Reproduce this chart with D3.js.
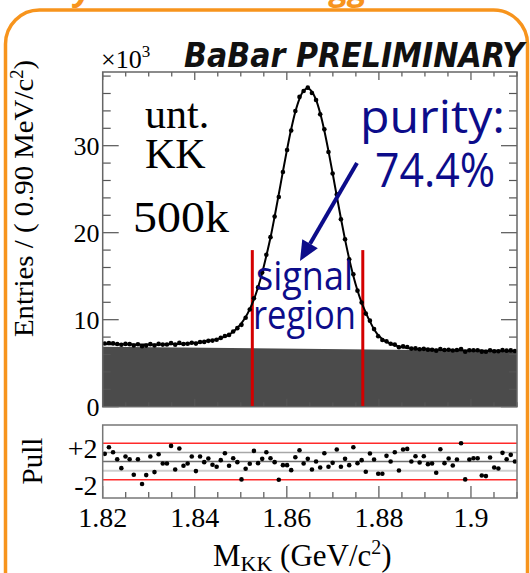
<!DOCTYPE html>
<html><head><meta charset="utf-8">
<script src="https://cdn.jsdelivr.net/npm/d3@7"></script>
<style>body{margin:0;background:#fff;overflow:hidden} svg{display:block}</style>
</head><body>
<script>
// ---- data ----
const massRange = [1.82, 1.91];          // GeV/c^2, 100 bins of 0.90 MeV
const fitValues = [ // total fit, x10^3 entries per bin
7.20,7.19,7.19,7.18,7.18,7.17,7.17,7.16,7.16,7.15,
7.15,7.14,7.14,7.15,7.16,7.17,7.19,7.20,7.22,7.24,
7.26,7.30,7.34,7.39,7.46,7.54,7.63,7.75,7.90,8.05,
8.29,8.62,9.04,9.60,10.30,11.21,12.34,13.73,15.39,17.34,
19.44,21.86,24.42,27.04,29.57,31.91,33.90,35.38,36.33,36.61,
36.22,35.26,33.72,31.72,29.37,26.83,24.20,21.63,19.20,16.99,
15.03,13.36,11.96,10.82,9.80,8.90,8.21,7.78,7.46,7.24,
7.05,6.92,6.82,6.75,6.68,6.65,6.62,6.60,6.58,6.56,
6.54,6.53,6.52,6.51,6.50,6.49,6.48,6.47,6.46,6.46,
6.45,6.45,6.44,6.44,6.43,6.43,6.42,6.42,6.41,6.41];
const dataValues = [ // data points, x10^3 entries per bin
7.27,7.32,7.28,7.20,7.12,7.22,7.19,7.04,7.18,6.94,
7.02,7.19,7.04,7.22,7.14,7.15,7.33,7.13,7.34,7.20,
7.24,7.35,7.25,7.44,7.45,7.57,7.60,7.70,7.91,8.13,
8.25,8.65,9.03,9.41,10.22,11.18,12.47,13.71,15.43,17.47,
19.49,21.85,24.11,26.97,29.50,31.74,33.99,35.61,36.29,36.67,
36.05,35.26,33.60,31.88,29.27,26.81,24.40,21.54,19.24,16.94,
15.22,13.34,11.98,10.70,9.89,8.92,8.09,7.66,7.51,7.24,
7.14,6.84,6.93,6.86,6.68,6.70,6.61,6.65,6.56,6.54,
6.44,6.64,6.51,6.54,6.46,6.51,6.64,6.31,6.48,6.49,
6.48,6.33,6.31,6.48,6.38,6.37,6.50,6.44,6.47,6.41];
const pullValues = [
0.84,1.56,1.02,0.25,-0.73,0.55,0.25,-1.45,0.25,-2.47,
-1.49,0.55,-1.16,0.8,-0.22,-0.22,1.71,-0.87,1.42,-0.47,
-0.22,0.55,-1.05,0.55,-0.07,0.33,-0.36,-0.58,0.15,0.91,
-0.47,0.36,-0.07,-1.96,-0.8,-0.25,1.16,-0.18,0.29,1.02,
0.36,-0.07,-2.0,-0.4,-0.4,-0.95,0.47,1.24,-0.22,0.29,
-0.87,0,-0.65,0.91,-0.58,-0.15,1.31,-0.58,0.29,-0.4,
1.56,-0.18,0.15,-1.13,0.87,0.22,-1.35,-1.35,0.62,0,
1.02,-0.98,1.31,1.38,0,0.58,-0.11,0.58,-0.29,-0.22,
-1.24,1.35,-0.18,0.33,-0.44,0.22,2.0,-1.96,0.22,0.36,
0.36,-1.53,-1.6,0.44,-0.65,-0.76,0.95,0.25,0.73,0];
const bkgMass = [1.82, 1.91];
const bkgValues = [6.90, 6.40];
const signalRegion = [1.8525, 1.8765];
const xTicks = [1.82, 1.84, 1.86, 1.88, 1.90];
const xTickLabels = ["1.82", "1.84", "1.86", "1.88", "1.9"];
const yTicks = [0, 10, 20, 30];
const yTickLabels = ["0", "10", "20", "30"];
const pullLines = [2, 1, 0, -1, -2];
const pullTicks = [2, -2];
const pullTickLabels = ["+2", "-2"];
const yMax = 38.47, pullMax = 4;

// ---- layout ----
const W = 530, H = 573;
const L = 102.7, R = 517;
const mainTop = 72, mainBot = 406.7;
const pullTop = 425, pullBot = 498;
const serif = "'Liberation Serif','Times New Roman',serif";
const sans = "'Open Sans','DejaVu Sans',sans-serif";
const navy = "#0c0c8a";
const orange = "#f7941d";

const svg = d3.select("body").append("svg").attr("width", W).attr("height", H);

// orange slide frame and cut-off slide title (only descenders visible)
svg.append("rect").attr("x", 5.5).attr("y", 10).attr("width", 522).attr("height", 640)
  .attr("rx", 34).attr("fill", "none").attr("stroke", orange).attr("stroke-width", 3.5);
const ttl = { "font-family": sans, "font-weight": "bold", "font-style": "italic", "font-size": 34, fill: orange };
const t1 = svg.append("text").attr("x", -5).attr("y", 0).text("Purity");
const t2 = svg.append("text").attr("x", 292).attr("y", 0).text("triggers");
[t1, t2].forEach(t => Object.entries(ttl).forEach(([k, v]) => t.attr(k, v)));

const x = d3.scaleLinear().domain(massRange).range([L, R]);
const y = d3.scaleLinear().domain([0, yMax]).range([mainBot, mainTop]);
const yp = d3.scaleLinear().domain([-pullMax, pullMax]).range([pullBot, pullTop]);
const binW = (massRange[1] - massRange[0]) / fitValues.length;
const centers = fitValues.map((_, i) => massRange[0] + (i + 0.5) * binW);

const main = svg.append("g");
main.append("rect").attr("x", L).attr("y", mainTop).attr("width", R - L).attr("height", mainBot - mainTop).attr("fill", "#fff");

// background component
const bk = bkgMass.map((m, i) => [m, bkgValues[i]]);
main.append("path").datum(bk)
  .attr("d", d3.area().x(d => x(d[0])).y0(y(0)).y1(d => y(d[1])))
  .attr("fill", "#4b4b4b");

// ticks main
const minorX = d3.range(0, 19).map(k => massRange[0] + k * 0.005);
const isMajorX = v => Math.abs(Math.round(v / 0.02) * 0.02 - v) < 1e-6;
const tk = main.append("g").attr("stroke", "#555").attr("stroke-width", 1.2);
minorX.forEach(v => {
  const len = isMajorX(v) ? 8 : 4.5;
  tk.append("line").attr("x1", x(v)).attr("x2", x(v)).attr("y1", mainBot).attr("y2", mainBot - len);
  tk.append("line").attr("x1", x(v)).attr("x2", x(v)).attr("y1", mainTop).attr("y2", mainTop + len);
});
d3.range(0, 39, 2).forEach(v => {
  if (v > yMax) return;
  const len = v % 10 === 0 ? 16 : 8;
  tk.append("line").attr("x1", L).attr("x2", L + len).attr("y1", y(v)).attr("y2", y(v));
  tk.append("line").attr("x1", R).attr("x2", R - len).attr("y1", y(v)).attr("y2", y(v));
});

// signal region lines
signalRegion.forEach(m => {
  main.append("line").attr("x1", x(m)).attr("x2", x(m)).attr("y1", y(18)).attr("y2", mainBot)
    .attr("stroke", "#d40000").attr("stroke-width", 3);
});

// fit curve and data points
main.append("path").datum(fitValues)
  .attr("d", d3.line().x((d, i) => x(centers[i])).y(d => y(d)).curve(d3.curveCatmullRom))
  .attr("fill", "none").attr("stroke", "#000").attr("stroke-width", 2);
main.selectAll("circle.d").data(dataValues).join("circle")
  .attr("cx", (d, i) => x(centers[i])).attr("cy", d => y(d)).attr("r", 2.3).attr("fill", "#000");

main.append("rect").attr("x", L).attr("y", mainTop).attr("width", R - L).attr("height", mainBot - mainTop)
  .attr("fill", "none").attr("stroke", "#666").attr("stroke-width", 1.5);

// y tick labels
yTicks.forEach((v, i) => {
  svg.append("text").attr("x", 99.5).attr("y", y(v) + 9).attr("text-anchor", "end")
    .attr("font-family", serif).attr("font-size", 26).text(yTickLabels[i]);
});
// x10^3
const e3 = svg.append("text").attr("x", 101).attr("y", 68).attr("font-family", serif).attr("font-size", 26);
e3.append("tspan").text("\u00d710");
e3.append("tspan").attr("dy", -11).attr("font-size", 17).text("3");

svg.append("text").attr("x", 184).attr("y", 66.5).attr("font-family", "'DejaVu Sans',sans-serif")
  .attr("font-weight", "bold").attr("font-style", "italic").attr("font-size", 33)
  .attr("textLength", 340).attr("lengthAdjust", "spacingAndGlyphs").attr("fill", "#111").text("BaBar PRELIMINARY");

// y axis title
svg.append("text").attr("transform", "translate(33,198.5) rotate(-90)").attr("text-anchor", "middle")
  .attr("font-family", serif).attr("font-size", 28).attr("textLength", 277).attr("lengthAdjust", "spacingAndGlyphs")
  .call(t => {
    t.append("tspan").text("Entries / ( 0.90 MeV/c");
    t.append("tspan").attr("dy", -10).attr("font-size", 18).text("2");
    t.append("tspan").attr("dy", 10).text(")");
  });

// annotations
svg.append("text").attr("x", 145).attr("y", 128).attr("font-family", serif).attr("font-size", 42).text("unt.");
svg.append("text").attr("x", 145).attr("y", 168).attr("font-family", serif).attr("font-size", 42).text("KK");
svg.append("text").attr("x", 133).attr("y", 232).attr("font-family", serif).attr("font-size", 44)
  .attr("textLength", 96).attr("lengthAdjust", "spacingAndGlyphs").text("500k");
svg.append("text").attr("x", 360).attr("y", 133).attr("font-family", sans).attr("font-size", 46).attr("fill", navy)
  .attr("textLength", 145).attr("lengthAdjust", "spacingAndGlyphs").text("purity:");
svg.append("text").attr("x", 375).attr("y", 187).attr("font-family", sans).attr("font-size", 48).attr("fill", navy)
  .attr("textLength", 120).attr("lengthAdjust", "spacingAndGlyphs").text("74.4%");
svg.append("text").attr("x", 256).attr("y", 290).attr("font-family", sans).attr("font-size", 40).attr("fill", navy)
  .attr("textLength", 97).attr("lengthAdjust", "spacingAndGlyphs").text("signal");
svg.append("text").attr("x", 253).attr("y", 329).attr("font-family", sans).attr("font-size", 40).attr("fill", navy)
  .attr("textLength", 103).attr("lengthAdjust", "spacingAndGlyphs").text("region");
// arrow
const ax0 = 357, ay0 = 163, ax1 = 300, ay1 = 261;
const ang = Math.atan2(ay1 - ay0, ax1 - ax0);
const hl = 20, hw = 9;
const bx = ax1 - hl * Math.cos(ang), by = ay1 - hl * Math.sin(ang);
svg.append("line").attr("x1", ax0).attr("y1", ay0).attr("x2", bx).attr("y2", by)
  .attr("stroke", navy).attr("stroke-width", 4);
svg.append("path").attr("d", `M${ax1},${ay1}L${bx + hw * Math.sin(ang)},${by - hw * Math.cos(ang)}L${bx - hw * Math.sin(ang)},${by + hw * Math.cos(ang)}Z`)
  .attr("fill", navy);

// ---- pull panel ----
const pg = svg.append("g");
const lineStyle = { 2: ["#ff2a2a", 1.3], 1: ["#a8a8a8", 1.5], 0: ["#6e6e6e", 1.5], "-1": ["#cfcfcf", 2], "-2": ["#ff2a2a", 1.3] };
pullLines.forEach(v => {
  pg.append("line").attr("x1", L).attr("x2", R).attr("y1", yp(v)).attr("y2", yp(v))
    .attr("stroke", lineStyle[v][0]).attr("stroke-width", lineStyle[v][1]);
});
const ptk = pg.append("g").attr("stroke", "#555").attr("stroke-width", 1.2);
minorX.forEach(v => {
  const len = isMajorX(v) ? 12 : 6;
  ptk.append("line").attr("x1", x(v)).attr("x2", x(v)).attr("y1", pullBot).attr("y2", pullBot - len);
});
pg.selectAll("circle").data(pullValues).join("circle")
  .attr("cx", (d, i) => x(centers[i])).attr("cy", d => yp(d)).attr("r", 2.3).attr("fill", "#000");
pg.append("rect").attr("x", L).attr("y", pullTop).attr("width", R - L).attr("height", pullBot - pullTop)
  .attr("fill", "none").attr("stroke", "#777").attr("stroke-width", 1.5);

pullTicks.forEach((v, i) => {
  svg.append("text").attr("x", 97.5).attr("y", yp(v) + 15).attr("text-anchor", "end")
    .attr("font-family", serif).attr("font-size", 28).text(pullTickLabels[i]);
});
svg.append("text").attr("transform", "translate(42,461) rotate(-90)").attr("text-anchor", "middle")
  .attr("font-family", serif).attr("font-size", 29).text("Pull");

xTicks.forEach((v, i) => {
  svg.append("text").attr("x", x(v)).attr("y", 527).attr("text-anchor", "middle")
    .attr("font-family", serif).attr("font-size", 28).text(xTickLabels[i]);
});
const xt = svg.append("text").attr("x", 213).attr("y", 566).attr("font-family", serif).attr("font-size", 31);
xt.append("tspan").text("M");
xt.append("tspan").attr("dy", 5).attr("font-size", 22).text("KK");
xt.append("tspan").attr("dy", -5).text(" (GeV/c");
xt.append("tspan").attr("dy", -12).attr("font-size", 20).text("2");
xt.append("tspan").attr("dy", 12).text(")");
</script>
</body></html>
